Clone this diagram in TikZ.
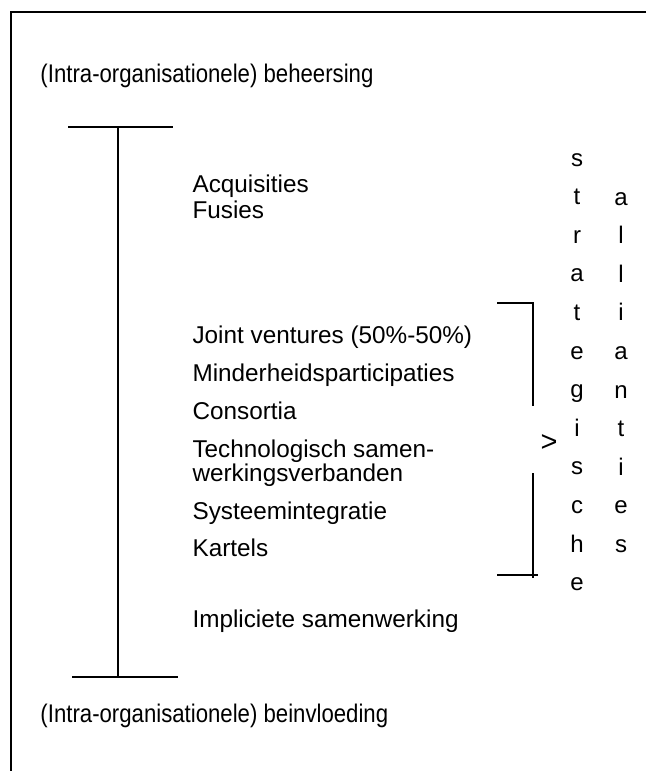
\documentclass[tikz,border=0pt]{standalone}
\usepackage{fontspec}
\setmainfont{Liberation Sans}
\usetikzlibrary{positioning}

\begin{document}
\begin{tikzpicture}[x=1pt, y=-1pt, line width=1.1pt,
  item/.style={anchor=base west, inner sep=0pt, font=\fontsize{24.3}{29}\selectfont},
  head/.style={anchor=base west, inner sep=0pt, xscale=0.87, font=\fontsize{25.5}{30}\selectfont},
  letter/.style={anchor=base, inner sep=0pt, font=\fontsize{24}{29}\selectfont},
  bar/.style={line width=1.2pt}]
\useasboundingbox (0,0) rectangle (646,771);
% frame (only top and left edge visible)
\coordinate (tr) at (646,12);
\coordinate (tl) at (11,12);
\coordinate (bl) at (11,771);
\draw[bar] (tr) -- (tl) -- (bl);

\begin{scope}
\node[head] (top) at (40,82) {(Intra-organisationele) beheersing};
\node[head] (bottom) at (40,722) {(Intra-organisationele) beinvloeding};
\node[item] (acq) at (192,192) {Acquisities};
\node[item] (fus) at (192,218) {Fusies};
\node[item] (jv) at (192,343) {Joint ventures (50\%-50\%)};
\node[item] (mp) at (192,381) {Minderheidsparticipaties};
\node[item] (cons) at (192,419) {Consortia};
\node[item] (tech) at (192,457) {Technologisch samen-};
\node[item] (werk) at (192,481) {werkingsverbanden};
\node[item] (sys) at (192,519) {Systeemintegratie};
\node[item] (kart) at (192,556) {Kartels};
\node[item] (impl) at (192,627) {Impliciete samenwerking};
\end{scope}

% scale from beheersing to beinvloeding
\coordinate (st) at (118,127);
\coordinate (sb) at (118,677);
\draw[bar] (68,127) coordinate (stl) -- (173,127) coordinate (str);
\draw[bar] (72,677) coordinate (sbl) -- (178,677) coordinate (sbr);
\draw[bar] (st) -- (sb);

% bracket of the strategic alliances
\coordinate (bt) at (533,303);
\coordinate (bb) at (533,578);
\draw[bar] (497,303) coordinate (btl) -- (bt) -- (533,406) coordinate (bm1);
\draw[bar] (533,473) coordinate (bm2) -- (bb);
\draw[bar] (497,575) coordinate (bbl) -- (538,575);
\node[letter, font=\fontsize{29}{32}\selectfont] (gt) at (549,451) {>};

% vertical words
\foreach \l [count=\i] in {s,t,r,a,t,e,g,i,s,c,h,e}
  \node[letter] (s\i) at (577,{166+38.6*(\i-1)}) {\l};
\foreach \l [count=\i] in {a,l,l,i,a,n,t,i,e,s}
  \node[letter] (a\i) at (621,{205+38.6*(\i-1)}) {\l};
\end{tikzpicture}
\end{document}
